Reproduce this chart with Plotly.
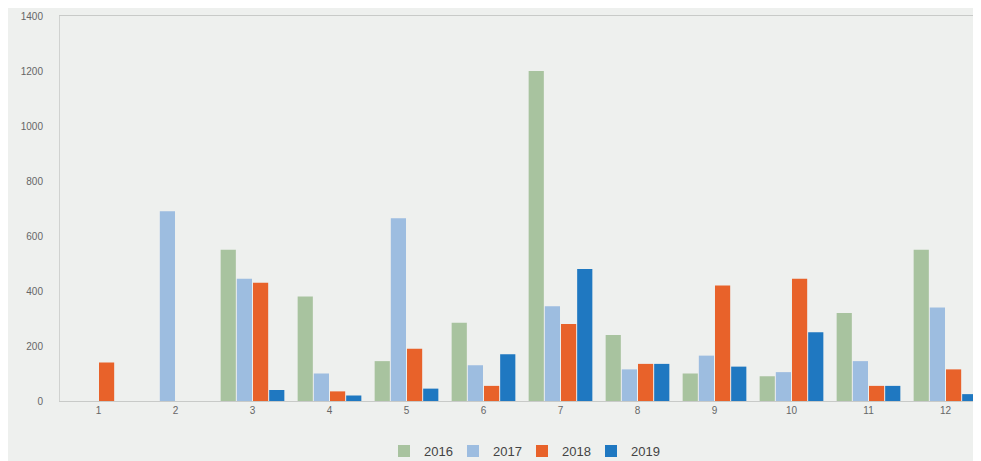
import plotly.graph_objects as go

months = ["1", "2", "3", "4", "5", "6", "7", "8", "9", "10", "11", "12"]
v2016 = [0, 0, 550, 380, 145, 285, 1200, 240, 100, 90, 320, 550]
v2017 = [0, 690, 445, 100, 665, 130, 345, 115, 165, 105, 145, 340]
v2018 = [140, 0, 430, 35, 190, 55, 280, 135, 420, 445, 55, 115]
v2019 = [0, 0, 40, 20, 45, 170, 480, 135, 125, 250, 55, 25]
series_names = ["2016", "2017", "2018", "2019"]
colors = ["#a8c39f", "#9dbde0", "#e8622a", "#1f78c1"]
y_ticks = [0, 200, 400, 600, 800, 1000, 1200, 1400]

fig = go.Figure()
for name, vals, col in zip(series_names, [v2016, v2017, v2018, v2019], colors):
    fig.add_trace(go.Bar(x=months, y=vals, name=name, marker_color=col,
                         marker_line_width=0))

fig.update_layout(
    width=976, height=453,
    margin=dict(l=52, r=0, t=8, b=60),
    paper_bgcolor="#eef0ee", plot_bgcolor="#eef0ee",
    barmode="group", bargap=0.16, bargroupgap=0.06,
    font=dict(family="Liberation Sans, Arial, sans-serif", color="#555555"),
    showlegend=True,
    legend=dict(orientation="h", x=0.5, xanchor="center",
                yref="container", y=0.022, yanchor="middle",
                font=dict(size=13, color="#444444"), itemwidth=30,
                entrywidth=24, traceorder="normal"),
)
fig.update_xaxes(type="category", showgrid=False, showline=True, mirror=True,
                 linecolor="#c8cac8", linewidth=1, ticks="",
                 tickfont=dict(size=10, color="#666666"))
fig.update_yaxes(range=[0, 1400], tickvals=y_ticks, showgrid=False, zeroline=False,
                 showline=True, linecolor="#d0d2d0", linewidth=1, ticks="",
                 ticklabelstandoff=14,
                 tickfont=dict(size=10, color="#666666"))

fig.write_html("out.html")
